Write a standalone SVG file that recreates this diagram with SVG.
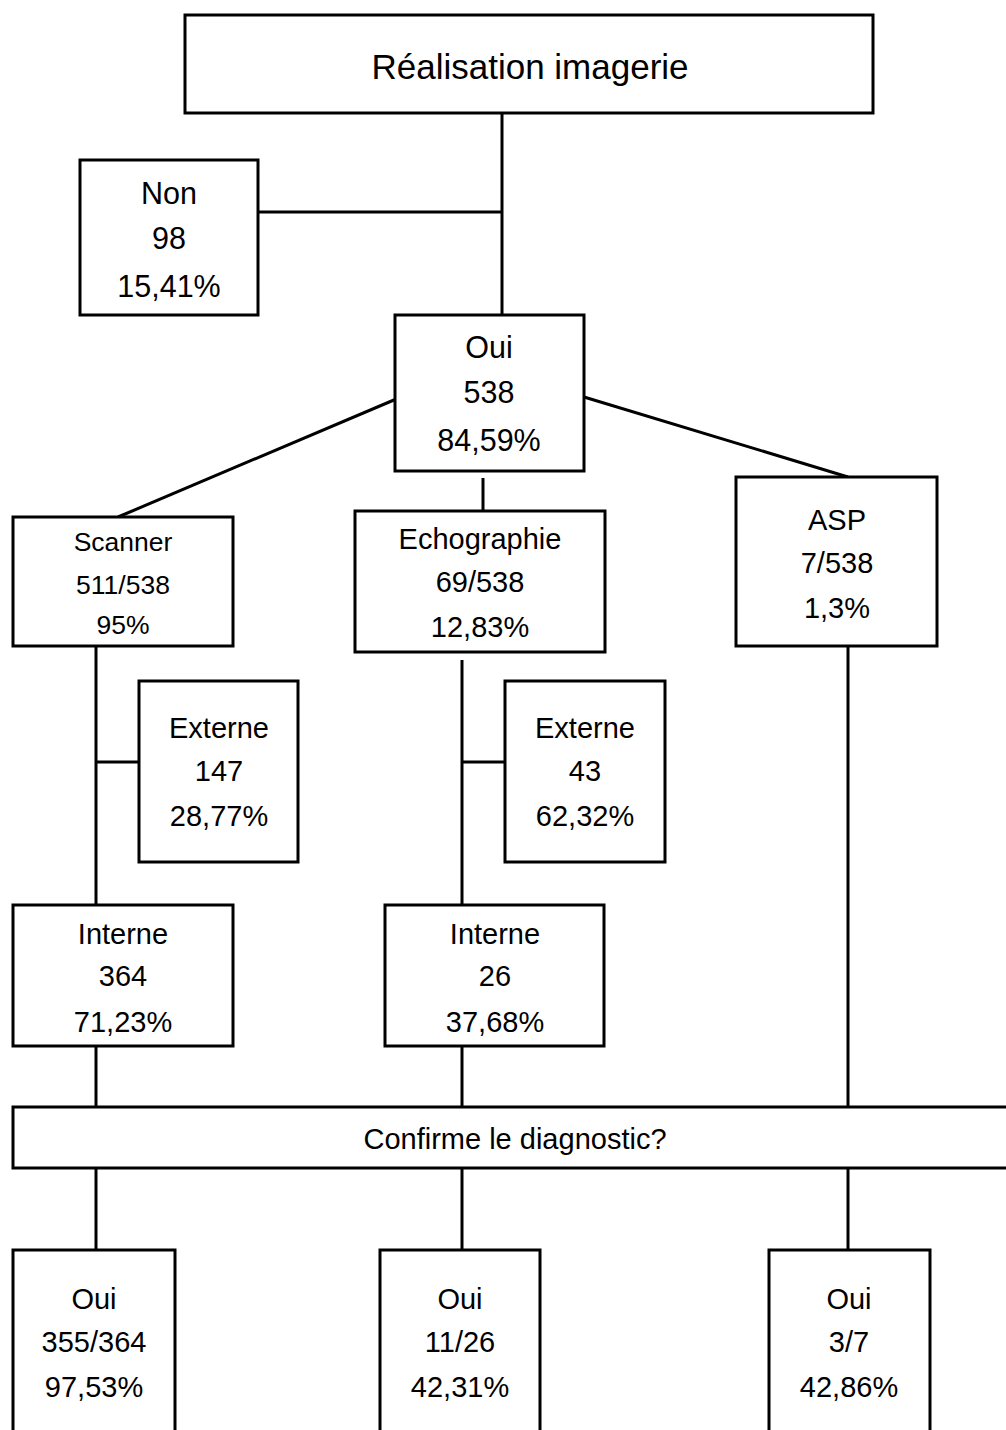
<svg xmlns="http://www.w3.org/2000/svg" width="1006" height="1430" viewBox="0 0 1006 1430">
<style>
rect{fill:#fff;stroke:#000;stroke-width:3}
rect.bg{fill:#fff;stroke:none}
line{stroke:#000;stroke-width:3}
text{font-family:"Liberation Sans",Arial,sans-serif;font-size:29px;fill:#000;text-anchor:middle}
.big{font-size:35px}
.m{font-size:30.5px}
.s{font-size:26.5px}
</style>
<rect class="bg" width="1006" height="1430"/>
<g id="connectors">
<line x1="502" y1="113" x2="502" y2="315"/>
<line x1="258" y1="212" x2="502" y2="212"/>
<line x1="401" y1="397" x2="118" y2="517"/>
<line x1="584" y1="397" x2="848" y2="477"/>
<line x1="483" y1="478" x2="483" y2="511"/>
<line x1="96" y1="646" x2="96" y2="905"/>
<line x1="96" y1="762" x2="139" y2="762"/>
<line x1="462" y1="660" x2="462" y2="905"/>
<line x1="462" y1="762" x2="505" y2="762"/>
<line x1="848" y1="640" x2="848" y2="1107"/>
<line x1="96" y1="1046" x2="96" y2="1107"/>
<line x1="462" y1="1046" x2="462" y2="1107"/>
<line x1="96" y1="1168" x2="96" y2="1250"/>
<line x1="462" y1="1168" x2="462" y2="1250"/>
<line x1="848" y1="1168" x2="848" y2="1250"/>
</g>
<g id="n-realisation"><rect x="185" y="15" width="688" height="98"/><text class="big" x="530" y="78.5">Réalisation imagerie</text></g>
<g id="n-non"><rect x="80" y="160" width="178" height="155"/><text class="m" x="169" y="204">Non</text><text class="m" x="169" y="249">98</text><text class="m" x="169" y="297">15,41%</text></g>
<g id="n-oui"><rect x="395" y="315" width="189" height="156"/><text class="m" x="489" y="358">Oui</text><text class="m" x="489" y="403">538</text><text class="m" x="489" y="451">84,59%</text></g>
<g id="n-scanner"><rect x="13" y="517" width="220" height="129"/><text class="s" x="123" y="550.5">Scanner</text><text class="s" x="123" y="593.5">511/538</text><text class="s" x="123" y="633.5">95%</text></g>
<g id="n-echo"><rect x="355" y="511" width="250" height="141"/><text x="480" y="548.5">Echographie</text><text x="480" y="591.5">69/538</text><text x="480" y="636.5">12,83%</text></g>
<g id="n-asp"><rect x="736" y="477" width="201" height="169"/><text x="837" y="529.5">ASP</text><text x="837" y="572.5">7/538</text><text x="837" y="617.5">1,3%</text></g>
<g id="n-ext1"><rect x="139" y="681" width="159" height="181"/><text x="219" y="737.5">Externe</text><text x="219" y="780.5">147</text><text x="219" y="825.5">28,77%</text></g>
<g id="n-ext2"><rect x="505" y="681" width="160" height="181"/><text x="585" y="737.5">Externe</text><text x="585" y="780.5">43</text><text x="585" y="825.5">62,32%</text></g>
<g id="n-int1"><rect x="13" y="905" width="220" height="141"/><text x="123" y="943.5">Interne</text><text x="123" y="985.5">364</text><text x="123" y="1031.5">71,23%</text></g>
<g id="n-int2"><rect x="385" y="905" width="219" height="141"/><text x="495" y="943.5">Interne</text><text x="495" y="985.5">26</text><text x="495" y="1031.5">37,68%</text></g>
<g id="n-confirme"><rect x="13" y="1107" width="1000" height="61"/><text x="515" y="1148.5">Confirme le diagnostic?</text></g>
<g id="n-oui1"><rect x="13" y="1250" width="162" height="190"/><text x="94" y="1308.5">Oui</text><text x="94" y="1351.5">355/364</text><text x="94" y="1396.5">97,53%</text></g>
<g id="n-oui2"><rect x="380" y="1250" width="160" height="190"/><text x="460" y="1308.5">Oui</text><text x="460" y="1351.5">11/26</text><text x="460" y="1396.5">42,31%</text></g>
<g id="n-oui3"><rect x="769" y="1250" width="161" height="190"/><text x="849" y="1308.5">Oui</text><text x="849" y="1351.5">3/7</text><text x="849" y="1396.5">42,86%</text></g>
</svg>
